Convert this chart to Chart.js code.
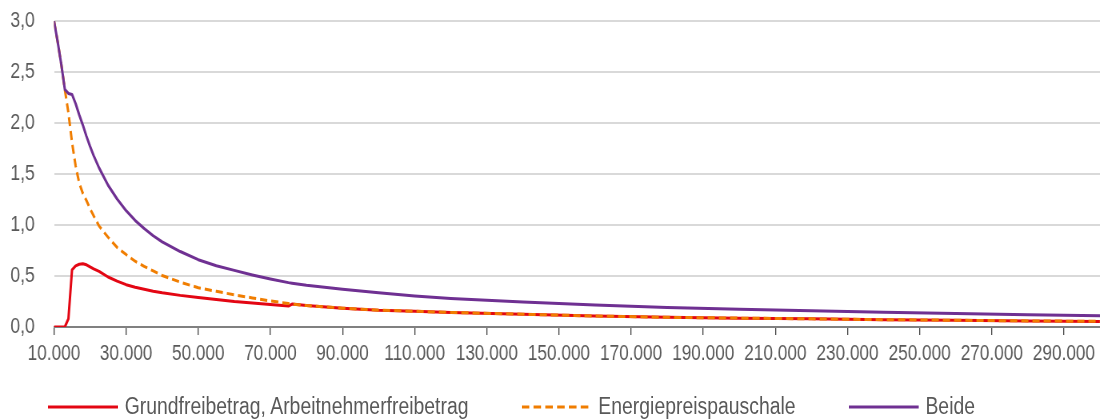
<!DOCTYPE html>
<html>
<head>
<meta charset="utf-8">
<script src="https://cdn.jsdelivr.net/npm/chart.js@4/dist/chart.umd.min.js"></script>
<style>
    body { margin: 0; background: #fff; }
    #wrap { position: relative; width: 1100px; height: 419px; overflow: hidden; }
    /* the original picture is horizontally squeezed, so the canvas is drawn wider and scaled */
    #myChart { position: absolute; left: 0; top: 0; transform: scaleX(0.8); transform-origin: 0 0; }
    #legend { position: absolute; left: 48px; top: 393px; display: flex; align-items: center;
        transform: scaleX(0.843); transform-origin: 0 0;
        font-family: 'Liberation Sans', Arial, sans-serif;
        font-size: 23px; line-height: 27px; color: #595959; white-space: nowrap; }
    .leg-item { display: flex; align-items: center; margin-right: 63px; }
    .leg-item svg { margin-right: 8px; }
</style>
</head>
<body>
<div id="wrap">
    <canvas id="myChart" width="1375" height="419"></canvas>
    <div id="legend"></div>
</div>
<script>
// Einkommen (x) und Entlastung in % (y)
const incomes = [10000, 11000, 12000, 13000, 14000, 15000, 16000, 17000, 18000, 19000, 20000,
    21000, 22500, 25000, 27500, 30000, 32500, 35000, 37500, 40000, 45000, 50000, 55000, 60000,
    65000, 70000, 75000, 76000, 80000, 90000, 100000, 110000, 120000, 140000, 160000, 180000,
    200000, 220000, 240000, 260000, 280000, 300000];

const grundfreibetrag = [0, 0, 0, 0, 0.08, 0.56, 0.60, 0.615, 0.62, 0.61, 0.59,
    0.57, 0.545, 0.49, 0.45, 0.415, 0.39, 0.37, 0.35, 0.335, 0.31, 0.29, 0.27, 0.25,
    0.235, 0.22, 0.205, 0.225, 0.21, 0.185, 0.165, 0.155, 0.143, 0.125, 0.108, 0.095,
    0.087, 0.08, 0.072, 0.066, 0.06, 0.055];

const energiepreis = [3.0, 2.80, 2.58, 2.33, 2.10, 1.81, 1.58, 1.41, 1.31, 1.24, 1.16,
    1.09, 0.99, 0.88, 0.78, 0.71, 0.645, 0.595, 0.55, 0.505, 0.44, 0.385, 0.35, 0.315,
    0.285, 0.255, 0.23, 0.225, 0.21, 0.185, 0.165, 0.155, 0.143, 0.125, 0.108, 0.095,
    0.087, 0.08, 0.072, 0.066, 0.06, 0.055];

const beide = [3.0, 2.80, 2.58, 2.33, 2.29, 2.28, 2.19, 2.08, 1.98, 1.87, 1.77,
    1.68, 1.56, 1.39, 1.255, 1.14, 1.045, 0.965, 0.895, 0.835, 0.74, 0.66, 0.60, 0.555,
    0.51, 0.47, 0.435, 0.43, 0.41, 0.37, 0.335, 0.305, 0.28, 0.245, 0.215, 0.19,
    0.175, 0.16, 0.145, 0.132, 0.12, 0.11];

const xTicks = [10000, 30000, 50000, 70000, 90000, 110000, 130000, 150000, 170000, 190000,
    210000, 230000, 250000, 270000, 290000];

const seriesNames = ['Grundfreibetrag, Arbeitnehmerfreibetrag', 'Energiepreispauschale', 'Beide'];
const seriesColors = ['#e30613', '#f07d00', '#6f3092'];
const seriesDash = [[], [9, 5], []];

const FONT = "'Liberation Sans', Arial, sans-serif";

function toPoints(arr) {
    return incomes.map((x, i) => ({ x: x, y: arr[i] }));
}

function fmtThousands(v) {
    return String(v).replace(/\B(?=(\d{3})+(?!\d))/g, '.');
}

const allSeries = [grundfreibetrag, energiepreis, beide];
const datasets = allSeries.map((arr, i) => ({
    label: seriesNames[i],
    data: toPoints(arr),
    borderColor: seriesColors[i],
    backgroundColor: seriesColors[i],
    borderDash: seriesDash[i],
    borderWidth: 3,
    borderJoinStyle: 'round',
    pointRadius: 0,
    tension: 0,
    order: 3 - i
}));

const ctx = document.getElementById('myChart').getContext('2d');
const myChart = new Chart(ctx, {
    type: 'line',
    data: { datasets: datasets },
    options: {
        responsive: false,
        animation: false,
        layout: { padding: { top: 21, right: 0, bottom: 47, left: 0 } },
        plugins: { legend: { display: false }, tooltip: { enabled: false } },
        scales: {
            x: {
                type: 'linear',
                min: 10000,
                max: 300000,
                afterBuildTicks: axis => { axis.ticks = xTicks.map(v => ({ value: v })); },
                afterFit: scale => { scale.height = 45; },
                ticks: {
                    autoSkip: false, maxRotation: 0, padding: 6,
                    color: '#595959', font: { family: FONT, size: 21.5 },
                    callback: v => fmtThousands(v)
                },
                grid: { drawOnChartArea: false, drawTicks: true, tickLength: 8, color: '#404040', lineWidth: 1.3 },
                border: { display: true, color: '#808080', width: 2 }
            },
            y: {
                min: 0,
                max: 3,
                afterFit: scale => {
                    scale.width = 67.5;
                    scale.paddingTop = 0;
                    scale.paddingBottom = 0;
                },
                ticks: {
                    stepSize: 0.5, padding: 24,
                    color: '#595959', font: { family: FONT, size: 22 },
                    callback: v => v.toFixed(1).replace('.', ',')
                },
                grid: { color: '#d9d9d9', lineWidth: 2, drawTicks: false },
                border: { display: false }
            }
        }
    }
});

// Legende als HTML
const legend = document.getElementById('legend');
seriesNames.forEach((name, i) => {
    const item = document.createElement('div');
    item.className = 'leg-item';
    const dash = seriesDash[i].length ? `stroke-dasharray="${seriesDash[i].join(',')}"` : '';
    item.innerHTML = `<svg width="83" height="6"><line x1="0" y1="3" x2="83" y2="3" stroke="${seriesColors[i]}" stroke-width="3" ${dash}/></svg><span>${name}</span>`;
    legend.appendChild(item);
});
</script>
</body>
</html>
